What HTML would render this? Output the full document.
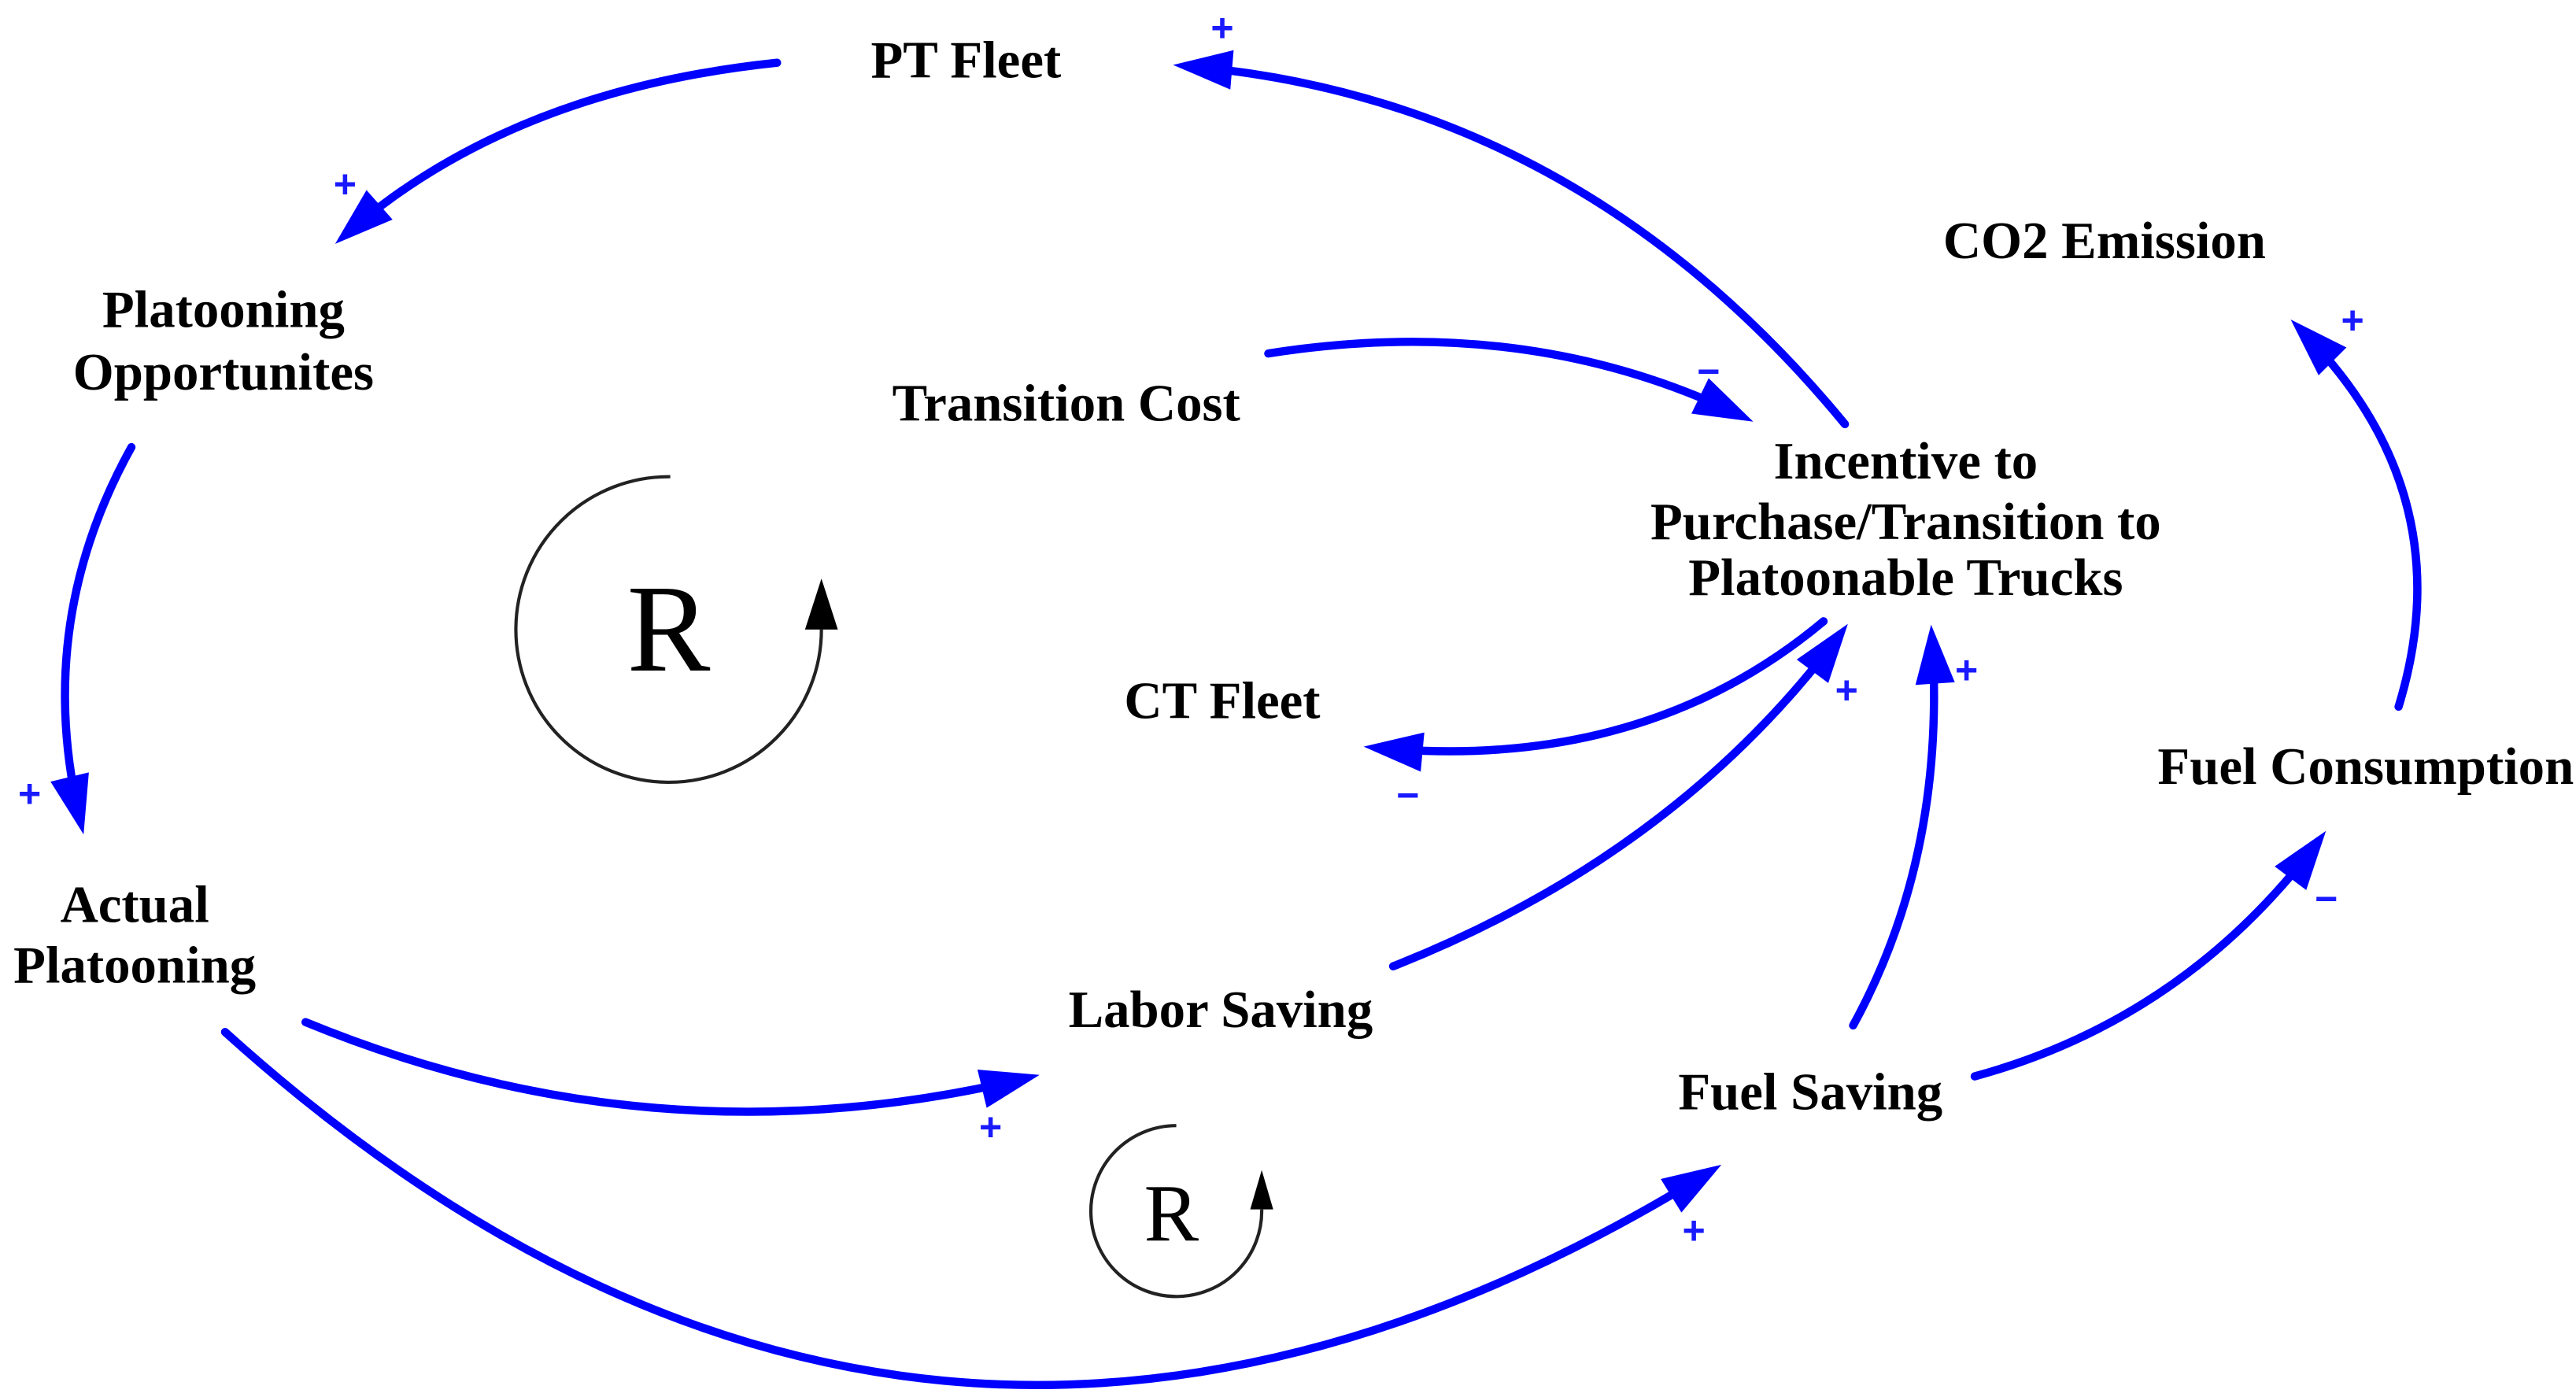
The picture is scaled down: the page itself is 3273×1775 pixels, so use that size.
<!DOCTYPE html>
<html><head><meta charset="utf-8"><style>
html,body{margin:0;padding:0;background:#fff;}
svg{display:block;}
.t{font-family:"Liberation Serif",serif;font-weight:bold;font-size:32px;fill:#000;text-anchor:middle;}
.s{font-family:"Liberation Sans",sans-serif;font-weight:bold;font-size:24px;fill:#1a1aff;text-anchor:middle;}
.a{fill:none;stroke:#0000ff;stroke-width:5;stroke-linecap:round;marker-end:url(#ah);}
</style></head><body>
<svg width="3273" height="1775" viewBox="0 0 1568 850" xmlns="http://www.w3.org/2000/svg">
<defs>
<marker id="ah" markerUnits="userSpaceOnUse" markerWidth="50" markerHeight="30" refX="28" refY="12" orient="auto" overflow="visible">
<path d="M0,0 L36,12 L0,24 Z" fill="#0000ff"/>
</marker>
</defs>
<path class="a" d="M1123,258 Q960,60 722,40"/>
<path class="a" d="M473,38 Q310,55 210,143"/>
<path class="a" d="M80,272 Q20,380 49,500"/>
<path class="a" d="M772,215 Q930,190 1060,253"/>
<path class="a" d="M1110,378 Q1000,470 838,455"/>
<path class="a" d="M848,588 Q1020,520 1120,386"/>
<path class="a" d="M1128,624 Q1185,520 1176,388"/>
<path class="a" d="M1460,430 Q1500,300 1400,200"/>
<path class="a" d="M1202,655 Q1330,620 1411,512"/>
<path class="a" d="M186,622 Q400,710 625,656"/>
<path class="a" d="M137,628 Q560,1010 1041,713"/>
<path d="M408,290 A93,93 0 1 0 500,383" fill="none" stroke="#222" stroke-width="2"/>
<path d="M490,383 L500,352 L510,383 Z" fill="#000"/>
<text x="407" y="408" style="font-family:'Liberation Serif',serif;font-size:76px;text-anchor:middle">R</text>
<path d="M716,685 A52,52 0 1 0 768,736" fill="none" stroke="#222" stroke-width="2"/>
<path d="M761,736 L768,712 L775,736 Z" fill="#000"/>
<text x="713" y="755" style="font-family:'Liberation Serif',serif;font-size:50px;text-anchor:middle">R</text>
<text class="t" x="588" y="47">PT Fleet</text>
<text class="t" x="1281" y="157">CO2 Emission</text>
<text class="t" x="136" y="199">Platooning</text>
<text class="t" x="136" y="237">Opportunites</text>
<text class="t" x="649" y="256">Transition Cost</text>
<text class="t" x="1160" y="291">Incentive to</text>
<text class="t" x="1160" y="328">Purchase/Transition to</text>
<text class="t" x="1160" y="362">Platoonable Trucks</text>
<text class="t" x="744" y="437">CT Fleet</text>
<text class="t" x="1440" y="477">Fuel Consumption</text>
<text class="t" x="82" y="561">Actual</text>
<text class="t" x="82" y="598">Platooning</text>
<text class="t" x="743" y="625">Labor Saving</text>
<text class="t" x="1102" y="675">Fuel Saving</text>
<text class="s" x="744" y="25">+</text>
<text class="s" x="210" y="120">+</text>
<text class="s" x="1040" y="234">−</text>
<text class="s" x="1432" y="203">+</text>
<text class="s" x="18" y="491">+</text>
<text class="s" x="1124" y="428">+</text>
<text class="s" x="1197" y="416">+</text>
<text class="s" x="857" y="492">−</text>
<text class="s" x="1416" y="555">−</text>
<text class="s" x="603" y="694">+</text>
<text class="s" x="1031" y="757">+</text>
</svg>
</body></html>
